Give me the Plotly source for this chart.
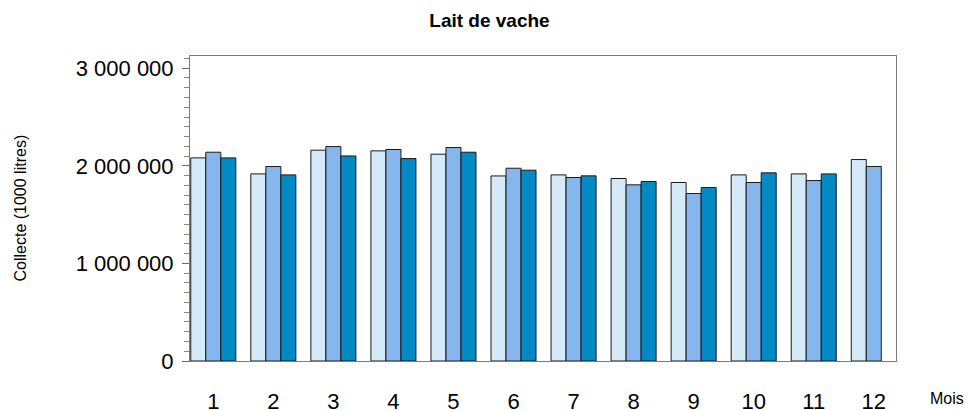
import plotly.graph_objects as go

months = [1, 2, 3, 4, 5, 6, 7, 8, 9, 10, 11, 12]
month_labels = ["1", "2", "3", "4", "5", "6", "7", "8", "9", "10", "11", "12"]
series_names = ["Année N-2", "Année N-1", "Année N"]
values_n2 = [2081000, 1917000, 2160000, 2153000, 2119000, 1896000, 1907000, 1870000, 1829000, 1907000, 1917000, 2064000]
values_n1 = [2139000, 1993000, 2197000, 2167000, 2187000, 1975000, 1880000, 1805000, 1716000, 1829000, 1849000, 1993000]
values_n = [2081000, 1907000, 2101000, 2074000, 2139000, 1955000, 1897000, 1839000, 1778000, 1928000, 1917000]
colors = ["#D5EAF8", "#85B6EE", "#038AC4"]

FONT = "Arial, Liberation Sans, sans-serif"

fig = go.Figure()
for name, vals, col in zip(series_names, [values_n2, values_n1, values_n], colors):
    fig.add_trace(go.Bar(
        x=months[:len(vals)], y=vals, name=name,
        marker=dict(color=col, line=dict(color="#1a1a1a", width=1)),
        showlegend=False,
    ))

fig.update_layout(
    width=968, height=410,
    margin=dict(l=190, r=72, t=56, b=49, autoexpand=False),
    paper_bgcolor="white", plot_bgcolor="white",
    barmode="group", bargap=0.25, bargroupgap=0,
    separators=", ",
    font=dict(family=FONT, color="#000000"),
    title=dict(text="<b>Lait de vache</b>", font=dict(size=19, family=FONT, color="#000"),
               x=489.5 / 968, xref="container", xanchor="center",
               y=1 - 20 / 410, yref="container", yanchor="middle"),
    xaxis=dict(
        range=[0.612, 12.37], tickmode="array", tickvals=months, ticktext=month_labels,
        ticks="", showgrid=False, zeroline=False, automargin=False,
        showline=True, linecolor="#7f7b70", linewidth=1, mirror=True,
        tickfont=dict(size=22, family=FONT, color="#000"),
        ticklabelstandoff=21,
    ),
    yaxis=dict(
        range=[0, 3125000], tickmode="linear", tick0=0, dtick=1000000, automargin=False,
        tickformat=",d", ticks="outside", ticklen=7, tickcolor="#6f6b62", tickwidth=1,
        minor=dict(dtick=100000, ticks="outside", ticklen=5, tickcolor="#8a867c", tickwidth=1),
        showgrid=False, zeroline=False,
        showline=True, linecolor="#7f7b70", linewidth=1, mirror=True,
        tickfont=dict(size=22, family=FONT, color="#000"),
        ticklabelstandoff=4,
    ),
    annotations=[
        dict(text="Collecte (1000 litres)", textangle=-90, xref="paper", yref="paper",
             x=0, y=0.5, xshift=-170, xanchor="center", yanchor="middle", showarrow=False,
             font=dict(size=16, family=FONT, color="#000")),
        dict(text="Mois", xref="paper", yref="paper", x=1, y=0, xshift=32, yshift=-37,
             xanchor="left", yanchor="middle", showarrow=False,
             font=dict(size=16, family=FONT, color="#000")),
    ],
)

fig.write_html(
    "out.html",
    config={"displayModeBar": False},
    post_script="document.body.style.margin='0';document.body.style.overflow='hidden';",
)
